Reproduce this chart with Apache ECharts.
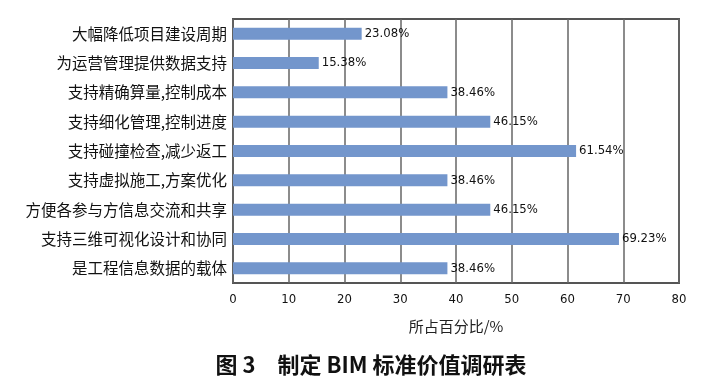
<!DOCTYPE html>
<html><head><meta charset="utf-8">
<script src="https://cdn.jsdelivr.net/npm/echarts@6/dist/echarts.min.js"></script>
<style>html,body{margin:0;padding:0;background:#fff}#c{width:722px;height:388px}</style>
</head><body><div id="c"></div>
<script>
const categories = ['大幅降低项目建设周期','为运营管理提供数据支持','支持精确算量,控制成本','支持细化管理,控制进度','支持碰撞检查,减少返工','支持虚拟施工,方案优化','方便各参与方信息交流和共享','支持三维可视化设计和协同','是工程信息数据的载体'];
const values = [23.08, 15.38, 38.46, 46.15, 61.54, 38.46, 46.15, 69.23, 38.46];
const xTicks = [0, 10, 20, 30, 40, 50, 60, 70, 80];
const narrow = "'DejaVu Sans Condensed','Liberation Sans Narrow',sans-serif";
const chart = echarts.init(document.getElementById('c'));
chart.setOption({
  animation: false,
  grid: {left: 233, top: 19, width: 446, height: 264, show: true, borderColor: '#555', borderWidth: 2, backgroundColor: 'transparent'},
  title: {text: '图 3\u3000制定 BIM 标准价值调研表', left: 366, textAlign: 'center', top: 349,
    textStyle: {fontFamily: "'Noto Sans CJK SC',sans-serif", fontSize: 22, fontWeight: 'bold', color: '#111'}},
  xAxis: {type: 'value', min: xTicks[0], max: xTicks[xTicks.length-1], interval: 10,
    name: '所占百分比/%', nameLocation: 'middle', nameGap: 36,
    nameTextStyle: {fontFamily: "'Noto Sans CJK SC',sans-serif", fontSize: 15, color: '#222'},
    axisLine: {show: false}, axisTick: {show: false},
    axisLabel: {fontFamily: narrow, fontSize: 13, color: '#111', margin: 10},
    splitLine: {show: true, lineStyle: {color: '#666', width: 1.5}}},
  yAxis: {type: 'category', data: categories, inverse: true,
    axisLine: {show: false}, axisTick: {show: false},
    axisLabel: {fontFamily: "'Noto Sans CJK SC',sans-serif", fontSize: 15.5, color: '#111', margin: 6}},
  series: [{type: 'bar', data: values, barWidth: 12, itemStyle: {color: '#7396cc'},
    label: {show: true, position: 'right', distance: 3, formatter: p => p.value.toFixed(2) + '%',
      fontFamily: narrow, fontSize: 13, color: '#111'}}]
});
</script></body></html>
